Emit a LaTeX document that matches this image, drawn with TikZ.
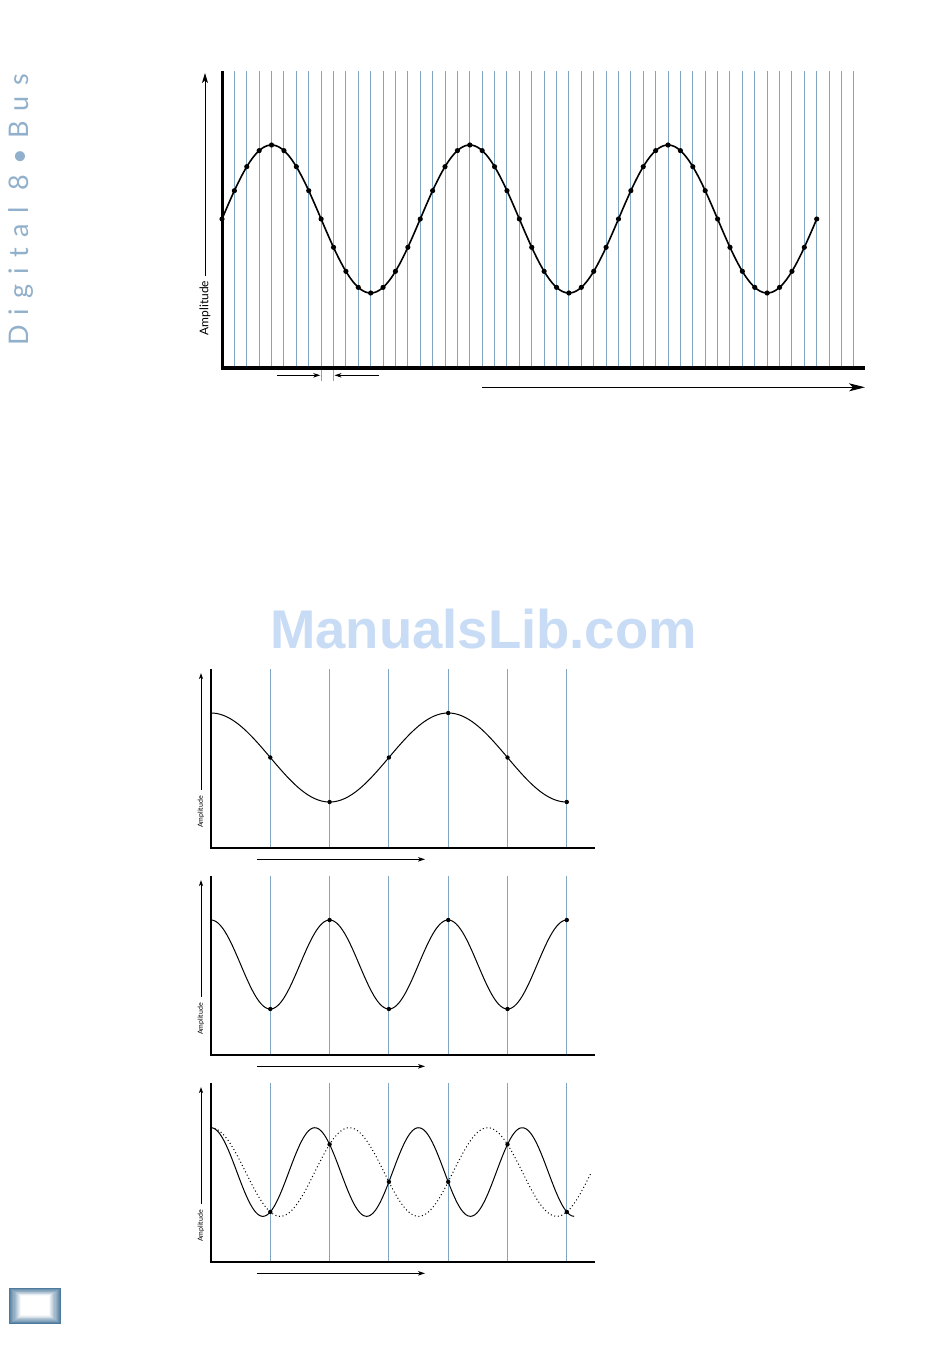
\documentclass[tikz,border=0pt]{standalone}
\usepackage{fontspec}
\setmainfont{Lato}
\newfontfamily\wmfont{Liberation Sans}
\usetikzlibrary{arrows.meta}
\definecolor{gridblue}{RGB}{128,166,194}
\definecolor{brand}{RGB}{145,176,203}
\definecolor{frameblue}{RGB}{78,122,158}
\definecolor{wmblue}{RGB}{200,220,245}
\tikzset{
  gridline/.style={draw=gridblue,line width=1pt},
  axisline/.style={draw=black,line width=3pt},
  axisthin/.style={draw=black,line width=2.4pt},
  wave/.style={draw=black,line width=1.6pt},
  wavethin/.style={draw=black,line width=1pt},
  wavedot/.style={draw=black,line width=1pt,dash pattern=on 1pt off 2.6pt},
  bigarrow/.style={draw=black,line width=1pt,-{Stealth[length=16pt,width=8pt,inset=4pt]}},
  smallarrow/.style={draw=black,line width=0.9pt,-{Stealth[length=7pt,width=4.5pt,inset=2pt]}},
  ampbig/.style={rotate=90,inner sep=0pt,font=\fontsize{12}{12}\selectfont},
  ampsmall/.style={rotate=90,inner sep=0pt,font=\fontsize{7}{7}\selectfont},
}
\begin{document}
\begin{tikzpicture}[x=1pt,y=-1pt]
\useasboundingbox (0,0) rectangle (950,1369);
\fill[white] (0,0) rectangle (950,1369);

% side brand text
\node[rotate=90,anchor=base,inner sep=0pt,text=brand,
  font=\fontsize{27}{27}\selectfont\addfontfeature{LetterSpace=38}] (brandtext) at (28,210) {Digital 8•Bus};

% page frame icon
\foreach \i in {0,...,10}{
  \pgfmathsetmacro{\pct}{100-\i*9.5}
  \fill[frameblue!\pct!white] ({9+\i*1.1},{1288+\i*0.7}) rectangle ({61-\i*1.1},{1324-\i*0.8});
}
\fill[white] (21,1296) rectangle (49,1315);

% ===== top plot =====
\foreach \k in {1,...,51}{
  \draw[gridline] ({222+12.39*\k},71) -- ({222+12.39*\k},368);
}
\draw[gridline] ({222+12.39*8},368) -- ({222+12.39*8},381);
\draw[gridline] ({222+12.39*9},368) -- ({222+12.39*9},381);
\draw[wave] plot[domain=0:48,samples=300] ({222+12.39*\x},{219-74*sin(22.5*\x)});
\foreach \k in {0,...,48}{
  \fill ({222+12.39*\k},{219-74*sin(22.5*\k)}) circle (2.6);
}
\draw[axisline] (222,71) -- (222,369.5);
\draw[draw=black,line width=4pt] (220.5,368) -- (865,368);

\node[ampbig] (ampT) at (205,308) {Amplitude};
\coordinate (ampTtip) at (205,73);
\draw[draw=black,line width=1pt,-{Stealth[length=10pt,width=6pt,inset=2.5pt]},shorten <=5pt] (ampT.east) -- (ampTtip);

\coordinate (perL0) at (277,375.3);
\coordinate (perL1) at (320.3,375.3);
\coordinate (perR0) at (379,375.3);
\coordinate (perR1) at (334.5,375.3);
\draw[smallarrow] (perL0) -- (perL1);
\draw[smallarrow] (perR0) -- (perR1);

\coordinate (timeT0) at (482,387.3);
\coordinate (timeT1) at (865,387.3);
\draw[bigarrow] (timeT0) -- (timeT1);

% watermark
\node[anchor=base,inner sep=0pt,text=wmblue,font=\wmfont\bfseries\fontsize{54.5}{54.5}\selectfont] (wm) at (483.5,648) {ManualsLib.com};

% ===== bottom plots =====
\foreach \p in {0,1,2}{
  \pgfmathsetmacro{\oy}{207*\p}
  \foreach \k in {1,...,6}{
    \draw[gridline] ({211+59.3*\k},{669+\oy}) -- ({211+59.3*\k},{848+\oy});
  }
}

% plot 1
\draw[wavethin] plot[domain=0:6,samples=200] ({211+59.3*\x},{757.5-44.5*cos(90*\x)});
\foreach \k in {1,...,6}{ \fill ({211+59.3*\k},{757.5-44.5*cos(90*\k)}) circle (2.2); }
% plot 2
\draw[wavethin] plot[domain=0:6,samples=200] ({211+59.3*\x},{964.5-44.5*cos(180*\x)});
\foreach \k in {1,...,6}{ \fill ({211+59.3*\k},{964.5-44.5*cos(180*\k)}) circle (2.2); }
% plot 3
\draw[wavethin] plot[domain=0:6.125,samples=250] ({211+59.3*\x},{1172-44.3*cos(205.714*\x)});
\draw[wavedot] plot[domain=0:6.42,samples=250] ({211+59.3*\x},{1172-44.3*cos(154.286*\x)});
\foreach \k in {1,...,6}{ \fill ({211+59.3*\k},{1172-44.3*cos(205.714*\k)}) circle (2.2); }

% axes, labels, arrows for bottom plots
\foreach \p/\nm in {0/a,1/b,2/c}{
  \pgfmathsetmacro{\oy}{207*\p}
  \draw[axisthin] (211,{669+\oy}) -- (211,{849.2+\oy});
  \draw[axisthin] (209.8,{848+\oy}) -- (595,{848+\oy});
  \node[ampsmall] (amp\nm) at (201,{812+\oy}) {Amplitude};
  \coordinate (amptip\nm) at (201,{673+\oy});
  \draw[draw=black,line width=0.8pt,-{Stealth[length=6pt,width=4pt,inset=1.5pt]},shorten <=6pt] (amp\nm.east) -- (amptip\nm);
  \coordinate (time\nm0) at (257,{859.3+\oy});
  \coordinate (time\nm1) at (425,{859.3+\oy});
  \draw[smallarrow] (time\nm0) -- (time\nm1);
}
\end{tikzpicture}
\end{document}
